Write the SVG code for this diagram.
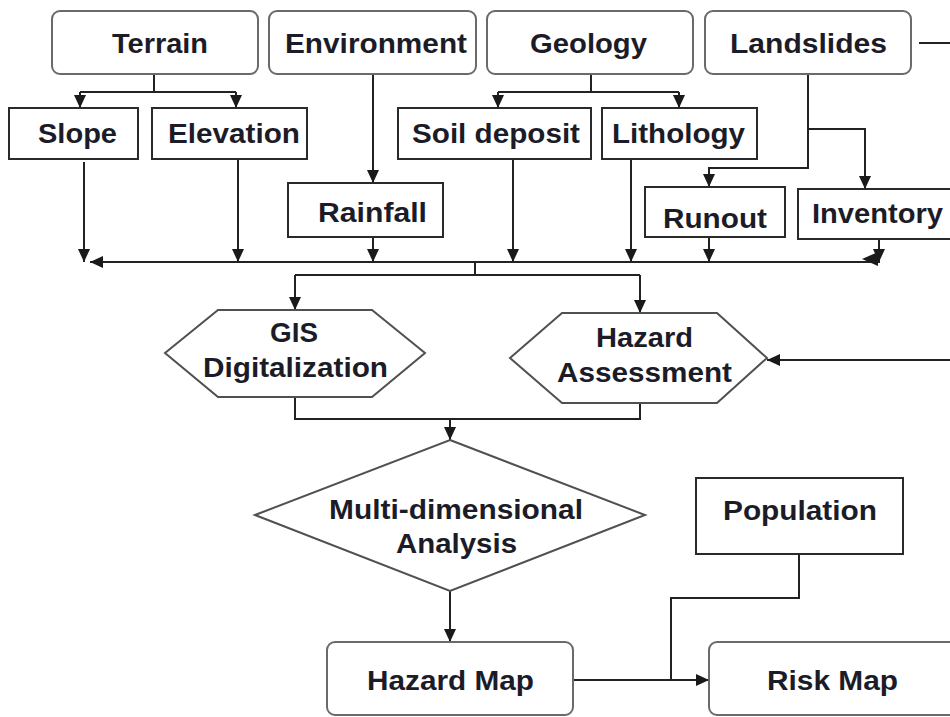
<svg xmlns="http://www.w3.org/2000/svg" width="950" height="717" viewBox="0 0 950 717">
<style>
.rb{fill:#fff;stroke:#6a6a6a;stroke-width:2}
.bx{fill:#fff;stroke:#2a2a2a;stroke-width:2}
.hx{fill:#fff;stroke:#505050;stroke-width:2}
.t{font-family:"Liberation Sans",Arial,sans-serif;font-weight:bold;font-size:27px;fill:#1c1c28;text-anchor:middle}
.c{fill:none;stroke:#222;stroke-width:2}
.ah{fill:#1a1a1a}
</style>
<defs>
<marker id="a" markerUnits="userSpaceOnUse" markerWidth="14" markerHeight="12" refX="13" refY="6" orient="auto">
<path d="M0,0 L13,6 L0,12 z" fill="#1a1a1a"/>
</marker>
</defs>
<rect width="950" height="717" fill="#fff"/>
<g id="connectors">
<path class="c" d="M154 74 V92"/>
<path class="c" d="M80 92 H236" />
<path class="c" d="M80 92 V108" marker-end="url(#a)"/>
<path class="c" d="M236 92 V108" marker-end="url(#a)"/>
<path class="c" d="M591 74 V92"/>
<path class="c" d="M498 92 H679"/>
<path class="c" d="M498 92 V108" marker-end="url(#a)"/>
<path class="c" d="M679 92 V108" marker-end="url(#a)"/>
<path class="c" d="M373 74 V183" marker-end="url(#a)"/>
<path class="c" d="M808 74 V168 H709 V187" marker-end="url(#a)"/>
<path class="c" d="M808 129 H865 V189" marker-end="url(#a)"/>
<path class="c" d="M84 162 V262" marker-end="url(#a)"/>
<path class="c" d="M238 159 V262" marker-end="url(#a)"/>
<path class="c" d="M373 237 V262" marker-end="url(#a)"/>
<path class="c" d="M513 159 V262" marker-end="url(#a)"/>
<path class="c" d="M631 159 V262" marker-end="url(#a)"/>
<path class="c" d="M709 237 V262" marker-end="url(#a)"/>
<path class="c" d="M879 239 V262" marker-end="url(#a)"/>
<path class="c" d="M880 262 H90" marker-end="url(#a)"/>
<polygon class="ah" points="862,259 878,252 878,266"/>
<path class="c" d="M475 262 V275"/>
<path class="c" d="M295 275 H640"/>
<path class="c" d="M295 275 V310" marker-end="url(#a)"/>
<path class="c" d="M640 275 V313" marker-end="url(#a)"/>
<path class="c" d="M295 397 V419 H640 V403"/>
<path class="c" d="M450 419 V440" marker-end="url(#a)"/>
<path class="c" d="M919 43 H958 V360 H767" marker-end="url(#a)"/>
<path class="c" d="M450 591 V642" marker-end="url(#a)"/>
<path class="c" d="M799 554 V598 H671 V680"/>
<path class="c" d="M573 680 H709" marker-end="url(#a)"/>
</g>
<g id="terrain"><rect class="rb" x="52" y="11" width="206" height="63" rx="8"/><text class="t" x="160" y="53" textLength="96" lengthAdjust="spacingAndGlyphs">Terrain</text></g>
<g id="environment"><rect class="rb" x="269" y="11" width="207" height="63" rx="8"/><text class="t" x="376" y="53" textLength="182" lengthAdjust="spacingAndGlyphs">Environment</text></g>
<g id="geology"><rect class="rb" x="487" y="11" width="206" height="63" rx="8"/><text class="t" x="588.5" y="53" textLength="117" lengthAdjust="spacingAndGlyphs">Geology</text></g>
<g id="landslides"><rect class="rb" x="705" y="11" width="206" height="63" rx="8"/><text class="t" x="808.5" y="53" textLength="157" lengthAdjust="spacingAndGlyphs">Landslides</text></g>
<g id="slope"><rect class="bx" x="9" y="108" width="129" height="51"/><text class="t" x="77.5" y="143" textLength="79" lengthAdjust="spacingAndGlyphs">Slope</text></g>
<g id="elevation"><rect class="bx" x="152" y="108" width="155" height="51"/><text class="t" x="234" y="143" textLength="132" lengthAdjust="spacingAndGlyphs">Elevation</text></g>
<g id="soil-deposit"><rect class="bx" x="398" y="108" width="193" height="51"/><text class="t" x="496" y="143" textLength="168" lengthAdjust="spacingAndGlyphs">Soil deposit</text></g>
<g id="lithology"><rect class="bx" x="602" y="108" width="155" height="51"/><text class="t" x="678.5" y="143" textLength="133" lengthAdjust="spacingAndGlyphs">Lithology</text></g>
<g id="rainfall"><rect class="bx" x="288" y="183" width="155" height="54"/><text class="t" x="372.5" y="222" textLength="109" lengthAdjust="spacingAndGlyphs">Rainfall</text></g>
<g id="runout"><rect class="bx" x="645" y="187" width="140" height="50"/><text class="t" x="715" y="228" textLength="104" lengthAdjust="spacingAndGlyphs">Runout</text></g>
<g id="inventory"><rect class="bx" x="798" y="189" width="160" height="50"/><text class="t" x="877.5" y="223" textLength="131" lengthAdjust="spacingAndGlyphs">Inventory</text></g>
<g id="gis"><polygon class="hx" points="165,353 218,310 372,310 425,353 372,397 218,397"/><text class="t" x="294" y="342" textLength="48" lengthAdjust="spacingAndGlyphs">GIS</text><text class="t" x="295.5" y="377" textLength="185" lengthAdjust="spacingAndGlyphs">Digitalization</text></g>
<g id="hazard-assessment"><polygon class="hx" points="510,358 562,313 717,313 767,358 717,403 562,403"/><text class="t" x="644.5" y="347" textLength="97" lengthAdjust="spacingAndGlyphs">Hazard</text><text class="t" x="644.5" y="382" textLength="175" lengthAdjust="spacingAndGlyphs">Assessment</text></g>
<g id="multi-dimensional-analysis"><polygon class="hx" points="450,440 645,515 450,591 255,515"/><text class="t" x="456" y="519" textLength="254" lengthAdjust="spacingAndGlyphs">Multi-dimensional</text><text class="t" x="456.5" y="553" textLength="121" lengthAdjust="spacingAndGlyphs">Analysis</text></g>
<g id="population"><rect class="bx" x="696" y="478" width="207" height="76"/><text class="t" x="800" y="520" textLength="154" lengthAdjust="spacingAndGlyphs">Population</text></g>
<g id="hazard-map"><rect class="rb" x="327" y="642" width="246" height="73" rx="8"/><text class="t" x="450.5" y="690" textLength="167" lengthAdjust="spacingAndGlyphs">Hazard Map</text></g>
<g id="risk-map"><rect class="rb" x="709" y="642" width="250" height="73" rx="8"/><text class="t" x="832.5" y="690" textLength="131" lengthAdjust="spacingAndGlyphs">Risk Map</text></g>
</svg>
